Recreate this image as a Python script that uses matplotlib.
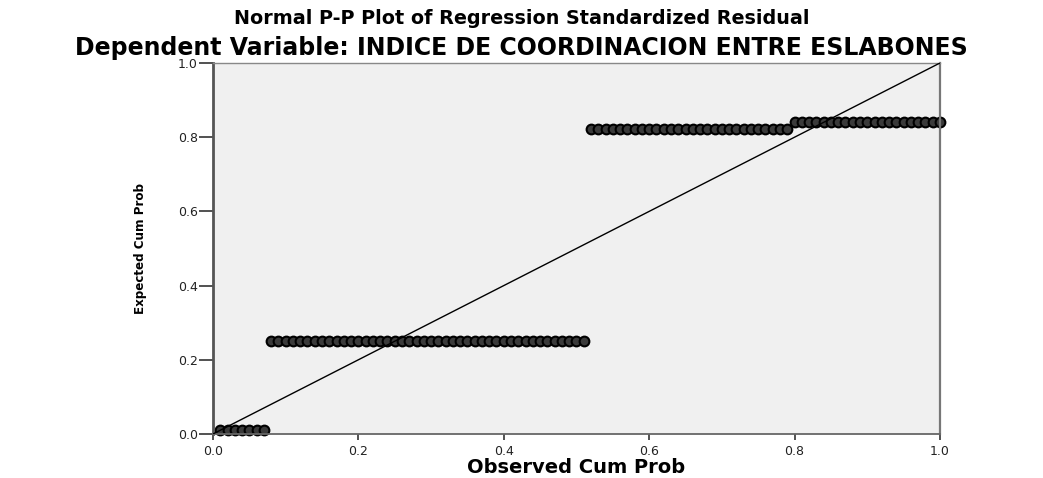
import numpy as np
import matplotlib
matplotlib.use("Agg")
import matplotlib.pyplot as plt
from matplotlib import font_manager

# Data: residual groups (tied expected cum prob), number of cases per group
group_counts = [7, 44, 28, 21]
group_expected = [0.011, 0.251, 0.822, 0.841]
x_ticks = [0.0, 0.2, 0.4, 0.6, 0.8, 1.0]
y_ticks = [0.0, 0.2, 0.4, 0.6, 0.8, 1.0]

n_total = sum(group_counts)
# observed cumulative probability = rank / N
observed = np.arange(1, n_total + 1) / n_total
expected = np.repeat(group_expected, group_counts)

plt.rcParams['font.family'] = ['DejaVu Sans']

# pick a condensed font for the y label if one is installed
fonts = font_manager.fontManager.ttflist
names = {f.name for f in fonts}
ylab_kw = dict(fontsize=9.5, family='Liberation Sans')
if 'Liberation Sans Narrow' in names:
    ylab_kw = dict(fontsize=12, family='Liberation Sans Narrow')
elif any(f.name == 'DejaVu Sans' and f.stretch == 'condensed' for f in fonts):
    ylab_kw = dict(fontsize=9.5, family='DejaVu Sans', fontstretch='condensed')

fig = plt.figure(figsize=(10.43, 4.78), dpi=100)
ax = fig.add_axes([0.2042, 0.0921, 0.6970, 0.7761])
ax.set_facecolor('#f0f0f0')

ax.plot([0, 1], [0, 1], color='black', lw=1.0, zorder=3)
ax.plot(observed, expected, linestyle='none', marker='o', markersize=7.0,
        markerfacecolor='#3a3a3a', markeredgecolor='black', markeredgewidth=1.5,
        zorder=2, clip_on=False)

ax.set_xlim(0, 1)
ax.set_ylim(0, 1)
ax.set_xticks(x_ticks)
ax.set_yticks(y_ticks)
ax.set_xticklabels([f"{v:.1f}" for v in x_ticks])
ax.set_yticklabels([f"{v:.1f}" for v in y_ticks])
ax.tick_params(axis='y', direction='out', length=10, width=1.2, pad=1,
               labelsize=9, color='#333333', labelcolor='#222222')
ax.tick_params(axis='x', direction='out', length=4, width=1.2, pad=4,
               labelsize=9, color='#333333', labelcolor='#222222')
ax.spines['left'].set_color('#555555')
ax.spines['left'].set_linewidth(2.0)
ax.spines['bottom'].set_color('#666666')
ax.spines['bottom'].set_linewidth(1.3)
ax.spines['top'].set_color('#888888')
ax.spines['top'].set_linewidth(1.0)
ax.spines['right'].set_color('#777777')
ax.spines['right'].set_linewidth(1.6)

ax.set_xlabel('Observed Cum Prob', fontsize=14, fontweight='bold')
# reference label centre at y ~ 469 px -> axes coords
ax.xaxis.set_label_coords(0.5, -(468 - 434) / 371.0)
ax.xaxis.label.set_va('center')
ax.set_ylabel('Expected Cum Prob', fontweight='bold', **ylab_kw)
ax.yaxis.set_label_coords(-(213 - 141) / 727.0, 0.5)
ax.yaxis.label.set_va('center')

fig.text(0.5, 0.962, 'Normal P-P Plot of Regression Standardized Residual',
         ha='center', va='center', fontsize=13.8, fontweight='bold')
fig.text(0.5, 0.9, 'Dependent Variable: INDICE DE COORDINACION ENTRE ESLABONES',
         ha='center', va='center', fontsize=17, fontweight='bold')

fig.savefig('out.png', dpi=100)
